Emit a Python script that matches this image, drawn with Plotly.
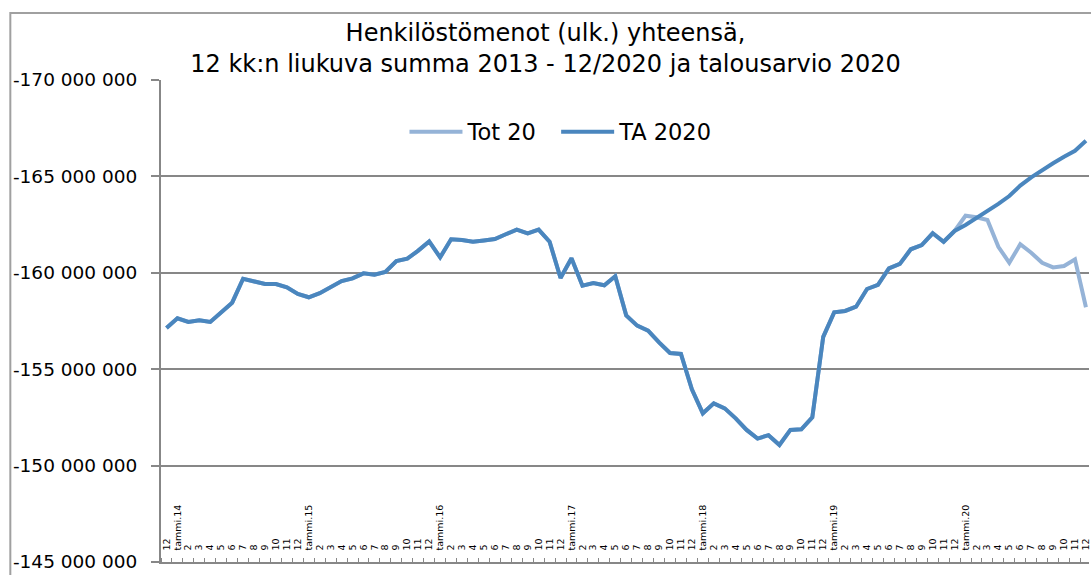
import plotly.graph_objects as go

# Category labels: 12/2013, then tammi.YY, 2..12 for 2014-2020
years = ["14", "15", "16", "17", "18", "19", "20"]
month_labels = ["2", "3", "4", "5", "6", "7", "8", "9", "10", "11", "12"]
categories = ["12"]
for yy in years:
    categories += ["tammi." + yy] + month_labels

# 12-month rolling sum, actuals 12/2013 - 12/2019 (shared by both series)
actual_2013_2019 = [
    -157140000, -157640000, -157450000, -157540000, -157450000, -157930000, -158450000,
    -159690000, -159560000, -159420000, -159420000, -159250000, -158900000,
    -158730000, -158940000, -159250000, -159570000, -159710000, -159970000,
    -159900000, -160040000, -160610000, -160730000, -161150000, -161630000,
    -160800000, -161740000, -161700000, -161610000, -161680000, -161750000,
    -162000000, -162240000, -162050000, -162240000, -161610000, -159730000,
    -160750000, -159330000, -159470000, -159350000, -159820000, -157790000,
    -157260000, -157000000, -156390000, -155840000, -155790000, -153960000,
    -152710000, -153230000, -152970000, -152450000, -151850000, -151400000,
    -151580000, -151070000, -151850000, -151880000, -152500000, -156680000,
    -157950000, -158020000, -158240000, -159160000, -159380000, -160230000,
    -160460000, -161220000, -161440000, -162050000, -161610000, -162170000,
]
# 2020 months 2..12
tot20_2020 = [-162960000, -162880000, -162740000, -161350000, -160520000, -161480000,
              -161040000, -160520000, -160280000, -160350000, -160700000, -158210000]
ta2020_2020 = [-162480000, -162830000, -163220000, -163570000, -163980000, -164520000,
               -164950000, -165330000, -165680000, -166020000, -166330000, -166850000]

tot20 = actual_2013_2019 + tot20_2020
ta2020 = actual_2013_2019 + ta2020_2020

y_tickvals = [-170000000, -165000000, -160000000, -155000000, -150000000, -145000000]
y_ticktext = ["-170 000 000", "-165 000 000", "-160 000 000",
              "-155 000 000", "-150 000 000", "-145 000 000"]

xs = list(range(len(categories)))
GRID = "#878787"
FONT = "DejaVu Sans"

fig = go.Figure()
fig.add_trace(go.Scatter(x=xs, y=tot20, mode="lines", name="Tot 20", legend="legend",
                         line=dict(color="#95B3D7", width=4)))
fig.add_trace(go.Scatter(x=xs, y=ta2020, mode="lines", name="TA 2020", legend="legend2",
                         line=dict(color="#4A86BE", width=4)))

legend_style = dict(orientation="h", xanchor="left", y=0.892, yanchor="middle",
                    font=dict(family=FONT, size=22.5, color="black"),
                    itemwidth=53, bgcolor="rgba(0,0,0,0)")

fig.update_layout(
    width=1091, height=575,
    margin=dict(l=161, r=0, t=80, b=13),
    paper_bgcolor="white", plot_bgcolor="white",
    font=dict(family=FONT, color="black"),
    title=dict(text="Henkilöstömenot (ulk.) yhteensä,<br>12 kk:n liukuva summa 2013 - 12/2020 ja talousarvio 2020",
               x=0.5, xanchor="center", xref="container",
               y=1 - 40.5 / 575, yanchor="middle", yref="container",
               font=dict(family=FONT, size=24, color="black")),
    legend=dict(x=(405 - 161) / 930, **legend_style),
    legend2=dict(x=(557 - 161) / 930, **legend_style),
    showlegend=True,
)

fig.update_yaxes(
    range=[-145000000, -170000000],
    tickvals=y_tickvals, ticktext=y_ticktext,
    tickfont=dict(family=FONT, size=18.5, color="black"),
    showgrid=True, gridcolor=GRID, gridwidth=2,
    showline=True, linecolor=GRID, linewidth=2,
    ticks="outside", ticklen=8, tickcolor=GRID, tickwidth=2,
    ticklabelstandoff=10,
    zeroline=False,
)
fig.update_xaxes(
    range=[-0.501, 84.28],
    tickvals=xs, ticktext=categories,
    tickangle=-90,
    ticklabelposition="inside",
    ticklabeloverflow="allow",
    ticklabelstandoff=7,
    tickfont=dict(family=FONT, size=9.5, color="black"),
    ticks="", showgrid=False, zeroline=False,
    showline=True, linecolor=GRID, linewidth=2,
    minor=dict(tick0=-0.5, dtick=1, ticks="inside", ticklen=4, tickcolor=GRID, tickwidth=1),
)

# outer chart-area border
fig.add_shape(type="rect", xref="paper", yref="paper",
              x0=(10 - 161) / 930, x1=1.02, y0=-0.06, y1=(562 - 13) / 482,
              line=dict(color="#A0A0A0", width=2), layer="below")

fig.write_html("out.html", config={"displayModeBar": False},
               post_script="document.body.style.margin='0';document.body.style.overflow='hidden';")
